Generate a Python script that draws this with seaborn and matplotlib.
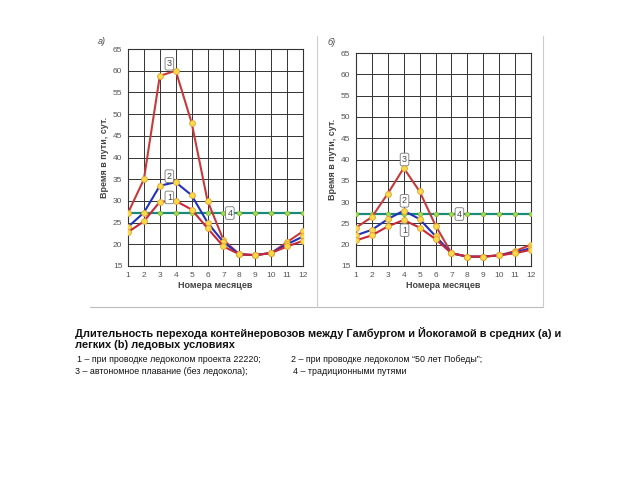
import matplotlib
matplotlib.use("Agg")
import matplotlib.pyplot as plt
import seaborn as sns
import pandas as pd
from matplotlib.lines import Line2D

sns.set_style("white")
plt.rcParams['font.family'] = ['Liberation Sans', 'DejaVu Sans']

months = list(range(1, 13))

# Panel a) – average ice conditions
a_s1 = [22.8, 25.3, 29.8, 30.0, 28.0, 23.7, 19.5, 17.7, 17.5, 18.0, 19.5, 20.8]
a_s2 = [24.0, 27.3, 33.5, 34.3, 31.3, 25.0, 20.5, 17.7, 17.5, 18.0, 20.0, 21.8]
a_s3 = [27.2, 35.0, 58.8, 60.0, 48.0, 30.0, 21.0, 17.7, 17.5, 18.0, 20.5, 23.0]
a_s4 = [27.2] * 12

# Panel b) – light ice conditions
b_s1 = [21.0, 22.2, 24.3, 25.8, 24.0, 21.3, 18.0, 17.2, 17.2, 17.5, 18.0, 18.8]
b_s2 = [22.2, 23.5, 26.0, 28.0, 26.0, 22.0, 18.0, 17.2, 17.2, 17.5, 18.2, 19.2]
b_s3 = [24.0, 26.5, 32.0, 38.0, 32.5, 24.5, 18.0, 17.2, 17.2, 17.5, 18.5, 20.0]
b_s4 = [27.2] * 12

yticks = list(range(15, 70, 5))
ylabel = "Время в пути, сут."
xlabel = "Номера месяцев"

colors = {"1": "#C8283C", "2": "#2233BB", "3": "#C83A3A", "4": "#1A8A7A"}

fig = plt.figure(figsize=(6.4, 4.8), dpi=100)

def panel(rect, data, labels_pos, tag, tagxy):
    ax = fig.add_axes(rect)
    for key in ["4", "3", "2", "1"]:
        vals = data[key]
        df = pd.DataFrame({"m": months, "v": vals})
        if key == "4":
            sns.lineplot(data=df, x="m", y="v", ax=ax, color=colors[key], lw=1.6,
                         marker="o", markersize=3.2, markerfacecolor="#A8D850",
                         markeredgecolor="#88BB33", markeredgewidth=0.5, zorder=3)
        else:
            sns.lineplot(data=df, x="m", y="v", ax=ax, color=colors[key], lw=1.5,
                         marker="o", markersize=4.2, markerfacecolor="#F8DA4A",
                         markeredgecolor="#E0A030", markeredgewidth=0.6, zorder=4)
    ax.set_xlim(1, 12)
    ax.set_ylim(15, 65)
    ax.set_xticks(months)
    ax.set_yticks(yticks)
    ax.grid(True, color="#333333", lw=0.7)
    ax.set_axisbelow(True)
    for s in ax.spines.values():
        s.set_color("#333333")
        s.set_linewidth(0.8)
    ax.tick_params(axis="both", labelsize=6, colors="#555555", length=2, pad=2)
    ax.set_xlabel(xlabel, fontsize=6.5, fontweight="bold", color="#444444", labelpad=2)
    ax.set_ylabel(ylabel, fontsize=6.5, fontweight="bold", color="#444444", labelpad=3)
    for txt, (x, y) in labels_pos.items():
        ax.text(x, y, txt, fontsize=6.5, color="#444444", ha="center", va="center",
                zorder=6, bbox=dict(boxstyle="round,pad=0.2", fc="white", ec="#777777", lw=0.6))
    fig.text(tagxy[0], tagxy[1], tag, fontsize=6.5, style="italic", color="#444444")
    return ax

panel([128/640, 1-266/480, 175/640, 217/480],
      {"1": a_s1, "2": a_s2, "3": a_s3, "4": a_s4},
      {"3": (3.6, 61.6), "2": (3.6, 35.7), "1": (3.6, 30.8), "4": (7.4, 27.2)},
      "а)", (98/640, 1-44/480))
panel([356/640, 1-266/480, 175/640, 213/480],
      {"1": b_s1, "2": b_s2, "3": b_s3, "4": b_s4},
      {"3": (4.05, 40.0), "2": (4.05, 30.3), "1": (4.05, 23.4), "4": (7.5, 27.2)},
      "б)", (328/640, 1-45/480))

# frame lines
fig.add_artist(Line2D([90/640, 543/640], [1-307/480, 1-307/480], color="#bbbbbb", lw=0.8))
fig.add_artist(Line2D([317/640, 317/640], [1-307/480, 1-36/480], color="#cccccc", lw=0.8))
fig.add_artist(Line2D([543/640, 543/640], [1-307/480, 1-36/480], color="#cccccc", lw=0.8))

fig.text(75/640, 1-333/480, "Длительность перехода контейнеровозов между Гамбургом и Йокогамой в средних (а) и",
         fontsize=7.9, fontweight="bold", va="center", color="#111111")
fig.text(75/640, 1-345/480, "легких (b) ледовых условиях",
         fontsize=7.9, fontweight="bold", va="center", color="#111111")
fig.text(77/640, 1-360/480, "1 – при проводке ледоколом проекта 22220;",
         fontsize=6.4, va="center", color="#111111")
fig.text(291/640, 1-360/480, "2 – при проводке ледоколом “50 лет Победы”;",
         fontsize=6.4, va="center", color="#111111")
fig.text(75/640, 1-372/480, "3 – автономное плавание (без ледокола);",
         fontsize=6.4, va="center", color="#111111")
fig.text(293/640, 1-372/480, "4 – традиционными путями",
         fontsize=6.4, va="center", color="#111111")

fig.savefig("out.png", dpi=100, facecolor="white")
